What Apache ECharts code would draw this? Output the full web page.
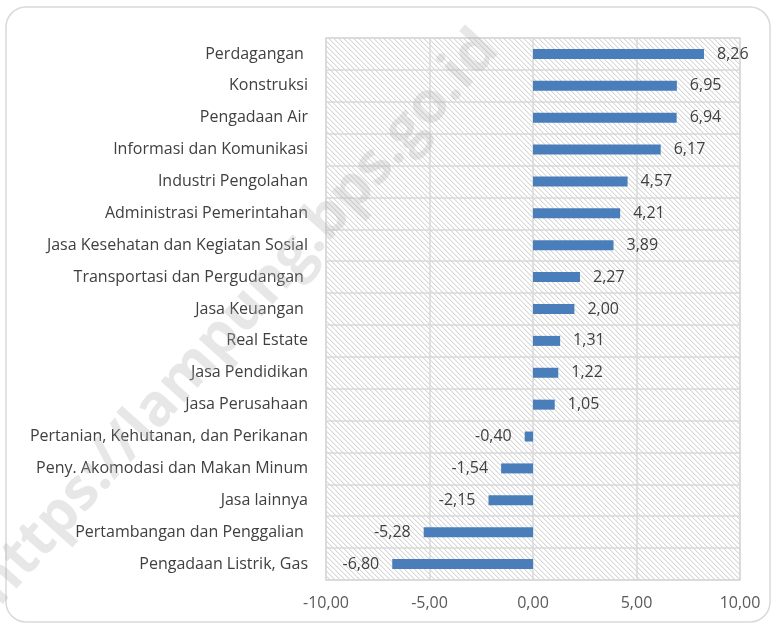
<!DOCTYPE html>
<html lang="id">
<head>
    <meta charset="UTF-8">
    <title>Pertumbuhan Lapangan Usaha</title>
    <script src="https://cdn.jsdelivr.net/npm/echarts@6/dist/echarts.min.js"></script>
    <style>
        body { margin: 0; background: #fff; }
    </style>
</head>
<body>
    <div id="main" style="width: 774px;height:625px;"></div>

    <script type="text/javascript">
        // data, urut dari atas ke bawah
        const categories = ['Perdagangan ', 'Konstruksi', 'Pengadaan Air', 'Informasi dan Komunikasi',
            'Industri Pengolahan', 'Administrasi Pemerintahan', 'Jasa Kesehatan dan Kegiatan Sosial',
            'Transportasi dan Pergudangan ', 'Jasa Keuangan ', 'Real Estate', 'Jasa Pendidikan',
            'Jasa Perusahaan', 'Pertanian, Kehutanan, dan Perikanan', 'Peny. Akomodasi dan Makan Minum',
            'Jasa lainnya', 'Pertambangan dan Penggalian ', 'Pengadaan Listrik, Gas'];
        const values = [8.26, 6.95, 6.94, 6.17, 4.57, 4.21, 3.89, 2.27, 2.00, 1.31, 1.22, 1.05,
            -0.40, -1.54, -2.15, -5.28, -6.80];

        const fmt = (v) => v.toFixed(2).replace('.', ',');

        // pola arsir diagonal untuk latar grid
        const pat = document.createElement('canvas');
        pat.width = 5; pat.height = 5;
        const pctx = pat.getContext('2d');
        pctx.fillStyle = '#ffffff';
        pctx.fillRect(0, 0, 5, 5);
        for (let i = 0; i < 5; i++) {
            pctx.fillStyle = '#d8d8d8';
            pctx.fillRect(i, i, 1, 1);
            pctx.fillStyle = '#efefef';
            pctx.fillRect((i + 1) % 5, i, 1, 1);
        }

        var myChart = echarts.init(document.getElementById('main'));
        const font = '"Open Sans", sans-serif';

        option = {
            animation: false,
            textStyle: { fontFamily: font },
            grid: {
                left: 326, right: 34, top: 38, bottom: 45,
                show: true,
                backgroundColor: { image: pat, repeat: 'repeat' },
                borderColor: '#d9d9d9',
                borderWidth: 1.5
            },
            xAxis: {
                type: 'value',
                min: -10, max: 10, interval: 5,
                axisLine: { show: false },
                axisTick: { show: false },
                axisLabel: { formatter: fmt, color: '#595959', fontSize: 16, margin: 15, fontFamily: font },
                splitLine: { lineStyle: { color: '#d9d9d9', width: 1.5 } }
            },
            yAxis: {
                type: 'category',
                inverse: true,
                data: categories,
                axisLine: { show: false },
                axisTick: { show: false },
                axisLabel: { color: '#404040', fontSize: 16, margin: 18, fontFamily: font },
                splitLine: { show: true, lineStyle: { color: '#d9d9d9', width: 1.5 } }
            },
            graphic: [
                {
                    type: 'rect',
                    shape: { x: 6, y: 7, width: 764, height: 615, r: 20 },
                    style: { fill: 'none', stroke: '#d9d9d9', lineWidth: 1.5 },
                    z: -10
                },
                {
                    type: 'text',
                    x: 238, y: 318,
                    rotation: 48 * Math.PI / 180,
                    z: 100,
                    style: {
                        text: 'https://lampung.bps.go.id',
                        fill: 'rgba(175,175,175,0.3)',
                        font: 'bold 58px "Open Sans", sans-serif',
                        align: 'center',
                        verticalAlign: 'middle'
                    }
                }
            ],
            series: [
                {
                    type: 'bar',
                    barWidth: 10,
                    itemStyle: { color: '#4a7ebb' },
                    label: {
                        show: true,
                        position: 'right',
                        distance: 13,
                        color: '#404040',
                        fontSize: 16,
                        fontFamily: font,
                        formatter: (p) => fmt(p.value)
                    },
                    data: values.map((v) => {
                        return v < 0 ? { value: v, label: { position: 'left' } } : v;
                    })
                }
            ]
        };

        myChart.setOption(option);
    </script>
</body>
</html>
